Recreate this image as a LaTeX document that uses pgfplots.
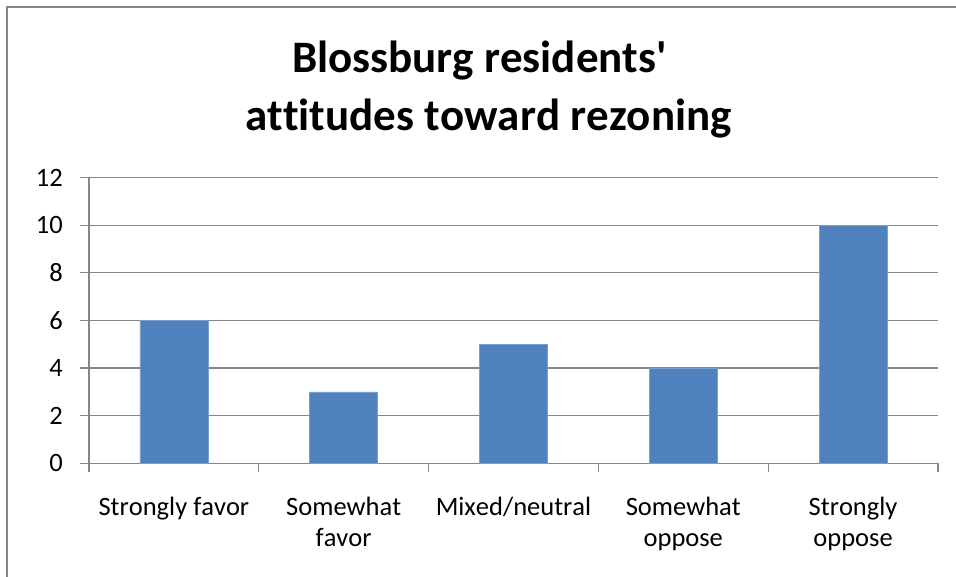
\documentclass[border=0pt]{standalone}
\usepackage{fontspec}
\setmainfont{Carlito}[Ligatures={TeX,CommonOff}, Kerning=Off]
\usepackage{pgfplots}
\pgfplotsset{compat=1.18}
\definecolor{barblue}{RGB}{79,129,189}
\definecolor{axgray}{RGB}{134,134,134}
\begin{document}
\begin{tikzpicture}
\useasboundingbox (-89pt,-113.7pt) rectangle (867pt,463.3pt);
% chart frame (left and top edges only visible)
\draw[axgray, line width=1.2pt] (-82pt,-113.7pt) -- (-82pt,456.3pt) -- (867pt,456.3pt);
\node[anchor=base, font=\fontsize{45}{54}\selectfont\bfseries] at (390.5pt,390.6pt) {Blossburg residents\textquotesingle};
\node[anchor=base, font=\fontsize{45}{54}\selectfont\bfseries] at (399.5pt,332.3pt) {attitudes toward rezoning};
\begin{axis}[
	at={(0pt,0pt)}, anchor=south west,
	scale only axis, width=849pt, height=285.6pt,
	xmin=-0.5, xmax=4.5, ymin=0, ymax=12,
	ytick={0,2,...,12},
	xtick={-0.5,0.5,1.5,2.5,3.5,4.5}, xticklabels={},
	extra x ticks={0,1,2,3,4},
	extra x tick labels={Strongly favor, Somewhat\\favor, Mixed/neutral, Somewhat\\oppose, Strongly\\oppose},
	extra x tick style={major tick length=0pt, xticklabel style={align=center, anchor=north, inner sep=0pt, yshift=-34pt}},
	axis x line*=bottom, axis y line*=left,
	axis line style={axgray, line width=1.2pt, -},
	tick align=outside, major tick length=9pt,
	tick style={axgray, line width=1.2pt},
	ymajorgrids, grid style={axgray, line width=1.2pt},
	/pgf/number format/assume math mode=true,
	ticklabel style={font=\fontsize{26.5}{31}\selectfont},
	yticklabel style={inner sep=0pt, xshift=-17pt},
	ybar, bar width=68pt, bar shift=0pt,
]
\addplot[fill=barblue, draw=barblue!75!white, line width=0.6pt] coordinates {(0,6) (1,3) (2,5) (3,4) (4,10)};
\end{axis}
\end{tikzpicture}
\end{document}
